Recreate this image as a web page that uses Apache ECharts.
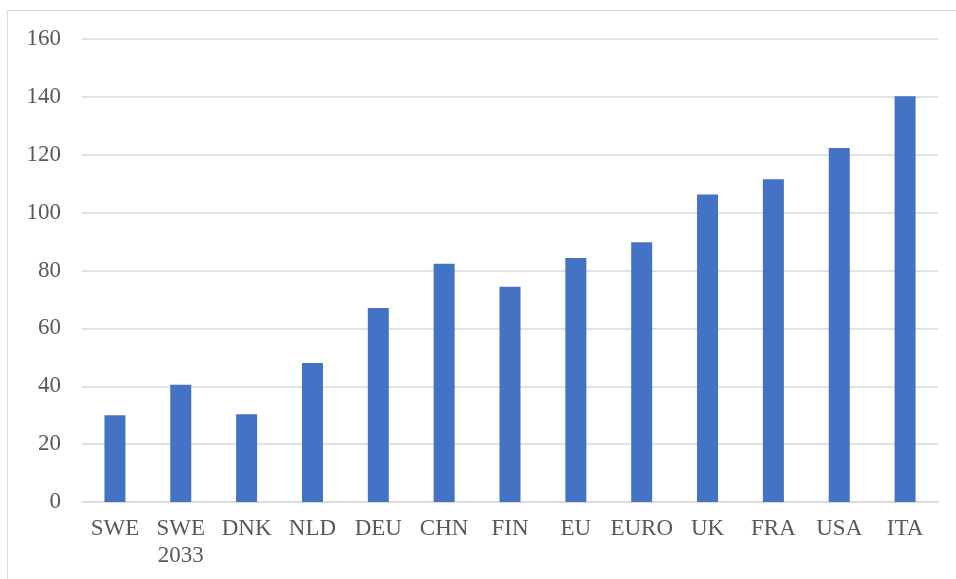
<!DOCTYPE html>
<html>
<head>
<meta charset="utf-8">
<script src="https://cdn.jsdelivr.net/npm/echarts@6/dist/echarts.min.js"></script>
<style>
  html, body { margin: 0; padding: 0; background: #fff; }
  #frame { position: absolute; left: 7px; top: 10px; width: 960px; height: 580px; border: 1px solid #d9d9d9; box-sizing: border-box; }
  #chart { position: absolute; left: 0; top: 0; width: 956px; height: 579px; }
</style>
</head>
<body>
<div id="frame"></div>
<div id="chart"></div>
<script>
const categories = ['SWE', 'SWE\n2033', 'DNK', 'NLD', 'DEU', 'CHN', 'FIN', 'EU', 'EURO', 'UK', 'FRA', 'USA', 'ITA']
const values = [30, 40.5, 30.3, 48, 67, 82.3, 74.4, 84.3, 89.8, 106.3, 111.5, 122.3, 140.2]
const yTicks = { min: 0, max: 160, interval: 20 }

const chart = echarts.init(document.getElementById('chart'))
const font = '"Liberation Serif", "Times New Roman", serif'
chart.setOption({
  animation: false,
  grid: {
    left: 82,
    right: 18,
    top: 39,
    bottom: 77
  },
  xAxis: {
    type: 'category',
    data: categories,
    axisLine: { show: true, lineStyle: { color: '#d9d9d9', width: 1.5 } },
    axisTick: { show: false },
    axisLabel: {
      color: '#595959',
      fontFamily: font,
      fontSize: 23,
      lineHeight: 27,
      margin: 13,
      interval: 0
    }
  },
  yAxis: {
    type: 'value',
    min: yTicks.min,
    max: yTicks.max,
    interval: yTicks.interval,
    axisLine: { show: false },
    axisTick: { show: false },
    splitLine: { lineStyle: { color: '#d9d9d9', width: 1.5 } },
    axisLabel: {
      color: '#595959',
      fontFamily: font,
      fontSize: 23,
      margin: 21
    }
  },
  series: [
    {
      type: 'bar',
      data: values,
      barWidth: 21,
      itemStyle: { color: '#4472C4' }
    }
  ]
})
</script>
</body>
</html>
